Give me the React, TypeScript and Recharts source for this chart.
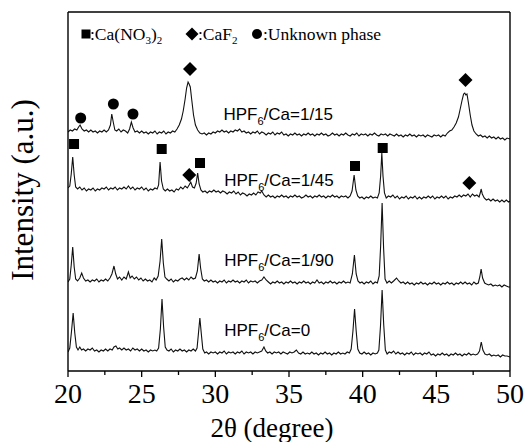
import React from 'react';
import { ComposedChart, Line, Scatter, XAxis, YAxis, Label } from 'recharts';

const serif = '"Liberation Serif", "Times New Roman", Times, serif';
const sans = '"Liberation Sans", Arial, sans-serif';

// 2θ tick marks; majors get a number
const majorTicks = [20, 25, 30, 35, 40, 45, 50];
const allTicks = [20, 22.5, 25, 27.5, 30, 32.5, 35, 37.5, 40, 42.5, 45, 47.5, 50];

// patterns, stacked with offsets (arbitrary units)
const pattern15: [number, number][] = [
  [20.0, 239], [20.15, 241], [20.3, 240], [20.45, 242], [20.6, 241], [20.72, 244], [20.82, 246], [20.95, 242],
  [21.1, 240], [21.25, 241], [21.4, 239], [21.55, 241], [21.7, 239], [21.85, 240], [22.0, 238], [22.15, 240],
  [22.3, 239], [22.45, 241], [22.6, 239], [22.75, 241], [22.88, 246], [22.97, 257], [23.07, 249], [23.18, 241],
  [23.3, 240], [23.45, 242], [23.6, 239], [23.75, 241], [23.9, 240], [24.05, 238], [24.18, 242], [24.3, 249],
  [24.42, 243], [24.55, 239], [24.7, 240], [24.85, 238], [25.0, 240], [25.15, 238], [25.3, 239], [25.45, 237],
  [25.6, 239], [25.75, 238], [25.9, 240], [26.05, 237], [26.2, 239], [26.35, 238], [26.5, 240], [26.65, 237],
  [26.8, 239], [26.95, 238], [27.1, 240], [27.25, 239], [27.4, 242], [27.55, 246], [27.7, 252], [27.82, 260],
  [27.95, 272], [28.05, 283], [28.15, 289], [28.22, 287], [28.3, 284], [28.4, 271], [28.52, 256], [28.65, 246],
  [28.8, 241], [28.95, 238], [29.1, 237], [29.25, 238], [29.4, 236], [29.55, 238], [29.7, 237], [29.85, 239],
  [30.0, 238], [30.15, 240], [30.3, 239], [30.45, 241], [30.6, 239], [30.75, 240], [30.9, 238], [31.05, 240],
  [31.2, 239], [31.35, 241], [31.5, 240], [31.65, 242], [31.8, 239], [31.95, 240], [32.1, 238], [32.25, 239],
  [32.4, 237], [32.55, 239], [32.7, 238], [32.85, 240], [33.0, 237], [33.15, 239], [33.3, 238], [33.45, 236],
  [33.6, 238], [33.75, 237], [33.9, 239], [34.05, 236], [34.2, 238], [34.35, 237], [34.5, 239], [34.65, 236],
  [34.8, 237], [34.95, 235], [35.1, 237], [35.25, 236], [35.4, 238], [35.55, 236], [35.7, 237], [35.85, 235],
  [36.0, 237], [36.15, 236], [36.3, 238], [36.45, 236], [36.6, 237], [36.75, 235], [36.9, 237], [37.05, 236],
  [37.2, 238], [37.35, 236], [37.5, 237], [37.65, 235], [37.8, 236], [37.95, 238], [38.1, 236], [38.25, 237],
  [38.4, 235], [38.55, 237], [38.7, 236], [38.85, 238], [39.0, 236], [39.15, 235], [39.3, 237], [39.45, 236],
  [39.6, 238], [39.75, 235], [39.9, 237], [40.05, 236], [40.2, 237], [40.35, 235], [40.5, 237], [40.65, 236],
  [40.8, 238], [40.95, 236], [41.1, 235], [41.25, 237], [41.4, 236], [41.55, 237], [41.7, 235], [41.85, 237],
  [42.0, 236], [42.15, 235], [42.3, 237], [42.45, 235], [42.6, 236], [42.75, 234], [42.9, 236], [43.05, 235],
  [43.2, 237], [43.35, 235], [43.5, 236], [43.65, 234], [43.8, 236], [43.95, 235], [44.1, 236], [44.25, 234],
  [44.4, 236], [44.55, 235], [44.7, 234], [44.85, 236], [45.0, 235], [45.15, 236], [45.3, 234], [45.45, 236],
  [45.6, 235], [45.75, 238], [45.9, 240], [46.05, 241], [46.2, 244], [46.35, 248], [46.5, 254], [46.62, 262],
  [46.75, 271], [46.85, 277], [46.93, 278], [47.0, 276], [47.08, 277], [47.18, 268], [47.3, 256], [47.42, 246],
  [47.55, 240], [47.7, 237], [47.85, 235], [48.0, 236], [48.15, 234], [48.3, 235], [48.45, 233], [48.6, 235],
  [48.75, 233], [48.9, 234], [49.05, 232], [49.2, 234], [49.35, 232], [49.5, 233], [49.65, 231], [49.8, 233],
  [50.0, 232],
];

const pattern45: [number, number][] = [
  [20.0, 183], [20.12, 185], [20.22, 197], [20.32, 214], [20.42, 196], [20.52, 184], [20.65, 182], [20.8, 184],
  [20.95, 181], [21.1, 183], [21.25, 180], [21.4, 182], [21.55, 181], [21.7, 183], [21.85, 180], [22.0, 182],
  [22.15, 181], [22.3, 183], [22.45, 182], [22.6, 184], [22.75, 181], [22.9, 183], [23.05, 182], [23.2, 184],
  [23.35, 181], [23.5, 183], [23.65, 182], [23.8, 184], [23.95, 182], [24.1, 185], [24.25, 182], [24.4, 184],
  [24.55, 181], [24.7, 183], [24.85, 182], [25.0, 184], [25.15, 181], [25.3, 183], [25.45, 180], [25.6, 182],
  [25.75, 181], [25.9, 183], [26.05, 182], [26.15, 186], [26.25, 209], [26.35, 190], [26.47, 182], [26.6, 180],
  [26.75, 182], [26.9, 180], [27.05, 181], [27.2, 179], [27.35, 182], [27.5, 181], [27.65, 184], [27.8, 182],
  [27.95, 185], [28.1, 183], [28.22, 186], [28.33, 189], [28.45, 184], [28.58, 183], [28.7, 188], [28.8, 198],
  [28.9, 187], [29.02, 181], [29.15, 179], [29.3, 180], [29.45, 178], [29.6, 180], [29.75, 179], [29.9, 181],
  [30.05, 179], [30.2, 180], [30.35, 178], [30.5, 180], [30.65, 179], [30.8, 177], [30.95, 179], [31.1, 178],
  [31.25, 180], [31.4, 177], [31.55, 179], [31.7, 176], [31.85, 178], [32.0, 177], [32.15, 175], [32.3, 177],
  [32.45, 176], [32.6, 178], [32.75, 176], [32.9, 179], [33.05, 178], [33.15, 180], [33.3, 176], [33.45, 174],
  [33.6, 176], [33.75, 174], [33.9, 175], [34.05, 173], [34.2, 175], [34.35, 174], [34.5, 176], [34.65, 174],
  [34.8, 175], [34.95, 173], [35.1, 175], [35.25, 174], [35.4, 176], [35.55, 174], [35.7, 175], [35.85, 173],
  [36.0, 174], [36.15, 176], [36.3, 174], [36.45, 175], [36.6, 173], [36.75, 175], [36.9, 174], [37.05, 176],
  [37.2, 174], [37.35, 175], [37.5, 173], [37.65, 175], [37.8, 174], [37.95, 176], [38.1, 174], [38.25, 175],
  [38.4, 173], [38.55, 175], [38.7, 174], [38.85, 175], [39.0, 173], [39.15, 175], [39.28, 180], [39.42, 196],
  [39.54, 181], [39.66, 175], [39.8, 173], [39.95, 174], [40.1, 172], [40.25, 174], [40.4, 173], [40.55, 175],
  [40.7, 173], [40.85, 174], [41.0, 173], [41.12, 178], [41.22, 195], [41.3, 218], [41.38, 195], [41.48, 178],
  [41.6, 173], [41.75, 175], [41.9, 174], [42.05, 176], [42.2, 173], [42.35, 175], [42.5, 172], [42.65, 174],
  [42.8, 173], [42.95, 175], [43.1, 172], [43.25, 174], [43.4, 173], [43.55, 175], [43.7, 172], [43.85, 174],
  [44.0, 172], [44.15, 174], [44.3, 173], [44.45, 175], [44.6, 173], [44.75, 175], [44.9, 172], [45.05, 174],
  [45.2, 173], [45.35, 175], [45.5, 173], [45.65, 175], [45.8, 172], [45.95, 174], [46.1, 173], [46.25, 175],
  [46.4, 174], [46.55, 176], [46.7, 174], [46.85, 176], [47.0, 175], [47.15, 177], [47.3, 174], [47.45, 177],
  [47.6, 175], [47.75, 176], [47.9, 174], [47.98, 178], [48.04, 182], [48.12, 177], [48.25, 173], [48.4, 171],
  [48.55, 172], [48.7, 170], [48.85, 172], [49.0, 170], [49.15, 171], [49.3, 169], [49.45, 171], [49.6, 169],
  [49.75, 171], [49.9, 169], [50.0, 170],
];

const pattern90: [number, number][] = [
  [20.0, 89], [20.12, 92], [20.22, 106], [20.32, 124], [20.42, 104], [20.52, 92], [20.65, 90], [20.8, 93],
  [20.93, 98], [21.05, 93], [21.2, 90], [21.35, 91], [21.5, 89], [21.65, 91], [21.8, 90], [21.95, 92],
  [22.1, 89], [22.25, 91], [22.4, 90], [22.55, 92], [22.7, 90], [22.85, 93], [22.98, 97], [23.12, 105],
  [23.24, 97], [23.36, 92], [23.5, 94], [23.65, 91], [23.8, 94], [23.95, 92], [24.1, 99], [24.22, 93],
  [24.35, 95], [24.5, 92], [24.65, 94], [24.8, 91], [24.95, 93], [25.1, 90], [25.25, 92], [25.4, 90],
  [25.55, 91], [25.7, 89], [25.85, 93], [25.98, 91], [26.12, 95], [26.25, 110], [26.36, 132], [26.47, 108],
  [26.58, 94], [26.7, 92], [26.85, 90], [27.0, 92], [27.15, 89], [27.3, 91], [27.45, 90], [27.6, 92],
  [27.75, 93], [27.9, 91], [28.05, 93], [28.2, 91], [28.35, 94], [28.5, 92], [28.65, 93], [28.78, 100],
  [28.9, 117], [29.0, 103], [29.12, 92], [29.25, 90], [29.4, 91], [29.55, 89], [29.7, 91], [29.85, 89],
  [30.0, 90], [30.15, 88], [30.3, 90], [30.45, 89], [30.6, 91], [30.75, 88], [30.9, 90], [31.05, 89],
  [31.2, 91], [31.35, 89], [31.5, 90], [31.65, 88], [31.8, 90], [31.95, 89], [32.1, 91], [32.25, 88],
  [32.4, 90], [32.55, 89], [32.7, 90], [32.85, 88], [33.0, 90], [33.15, 91], [33.3, 94], [33.45, 91],
  [33.6, 89], [33.75, 87], [33.9, 89], [34.05, 88], [34.2, 90], [34.35, 88], [34.5, 89], [34.65, 87],
  [34.8, 89], [34.95, 88], [35.1, 90], [35.25, 88], [35.4, 89], [35.55, 87], [35.7, 89], [35.85, 88],
  [36.0, 90], [36.15, 88], [36.3, 89], [36.45, 87], [36.6, 89], [36.75, 88], [36.9, 91], [37.05, 88],
  [37.2, 89], [37.35, 87], [37.5, 89], [37.65, 88], [37.8, 90], [37.95, 88], [38.1, 89], [38.25, 87],
  [38.4, 89], [38.55, 88], [38.7, 90], [38.85, 88], [39.0, 89], [39.15, 88], [39.3, 97], [39.44, 116],
  [39.56, 97], [39.68, 90], [39.82, 88], [39.95, 89], [40.1, 87], [40.25, 89], [40.4, 88], [40.55, 90],
  [40.7, 87], [40.85, 89], [41.0, 88], [41.12, 95], [41.22, 125], [41.32, 168], [41.42, 123], [41.52, 92],
  [41.65, 88], [41.8, 90], [41.95, 88], [42.1, 90], [42.3, 93], [42.45, 90], [42.6, 88], [42.75, 89],
  [42.9, 87], [43.05, 89], [43.2, 87], [43.35, 88], [43.5, 86], [43.65, 88], [43.8, 87], [43.95, 89],
  [44.1, 87], [44.25, 88], [44.4, 86], [44.55, 88], [44.7, 87], [44.85, 89], [45.0, 87], [45.15, 88],
  [45.3, 86], [45.45, 88], [45.6, 87], [45.75, 89], [45.9, 87], [46.05, 88], [46.2, 86], [46.35, 88],
  [46.5, 87], [46.65, 89], [46.8, 87], [46.95, 89], [47.1, 87], [47.25, 88], [47.4, 86], [47.55, 89],
  [47.7, 87], [47.85, 88], [47.95, 94], [48.04, 102], [48.14, 93], [48.28, 88], [48.4, 87], [48.55, 86],
  [48.7, 87], [48.85, 85], [49.0, 86], [49.15, 85], [49.3, 86], [49.45, 84], [49.6, 86], [49.75, 85],
  [49.9, 84], [50.0, 84],
];

const pattern0: [number, number][] = [
  [20.0, 19], [20.12, 23], [20.24, 40], [20.35, 58], [20.46, 38], [20.57, 24], [20.68, 21], [20.8, 24],
  [20.92, 21], [21.05, 22], [21.2, 20], [21.35, 22], [21.5, 21], [21.65, 23], [21.8, 20], [21.95, 21],
  [22.1, 19], [22.25, 21], [22.4, 20], [22.55, 22], [22.7, 20], [22.85, 22], [23.0, 21], [23.12, 24],
  [23.25, 25], [23.38, 22], [23.5, 23], [23.65, 21], [23.8, 23], [23.95, 21], [24.1, 22], [24.25, 20],
  [24.4, 23], [24.55, 21], [24.7, 22], [24.85, 20], [25.0, 22], [25.15, 20], [25.3, 21], [25.45, 19],
  [25.6, 21], [25.75, 20], [25.9, 21], [26.02, 20], [26.15, 23], [26.27, 42], [26.38, 72], [26.49, 44],
  [26.6, 24], [26.72, 21], [26.85, 20], [27.0, 22], [27.15, 19], [27.3, 21], [27.45, 20], [27.6, 22],
  [27.75, 20], [27.9, 21], [28.05, 19], [28.2, 21], [28.35, 20], [28.5, 22], [28.65, 20], [28.76, 23],
  [28.85, 37], [28.95, 53], [29.05, 37], [29.15, 22], [29.28, 18], [29.4, 19], [29.55, 17], [29.7, 19],
  [29.85, 18], [30.0, 19], [30.15, 17], [30.3, 19], [30.45, 18], [30.6, 20], [30.75, 17], [30.9, 19],
  [31.05, 18], [31.2, 19], [31.35, 17], [31.5, 19], [31.65, 18], [31.8, 20], [31.95, 17], [32.1, 19],
  [32.25, 18], [32.4, 19], [32.55, 17], [32.7, 19], [32.85, 18], [33.0, 19], [33.15, 20], [33.3, 24],
  [33.42, 20], [33.55, 18], [33.7, 19], [33.85, 17], [34.0, 19], [34.15, 18], [34.3, 19], [34.45, 17],
  [34.6, 19], [34.75, 18], [34.9, 17], [35.05, 19], [35.2, 18], [35.35, 19], [35.5, 21], [35.65, 18],
  [35.8, 17], [35.95, 19], [36.1, 17], [36.25, 18], [36.4, 17], [36.55, 19], [36.7, 17], [36.85, 18],
  [37.0, 16], [37.15, 18], [37.3, 17], [37.45, 19], [37.6, 17], [37.75, 18], [37.9, 16], [38.05, 18],
  [38.2, 17], [38.35, 19], [38.5, 17], [38.65, 18], [38.8, 17], [38.95, 19], [39.1, 18], [39.22, 22],
  [39.34, 40], [39.45, 62], [39.56, 40], [39.67, 22], [39.8, 18], [39.95, 17], [40.1, 19], [40.25, 17],
  [40.4, 18], [40.55, 16], [40.7, 18], [40.85, 17], [41.0, 18], [41.1, 21], [41.21, 45], [41.32, 81],
  [41.43, 46], [41.54, 21], [41.66, 17], [41.8, 19], [41.95, 18], [42.1, 20], [42.25, 17], [42.4, 19],
  [42.55, 17], [42.7, 18], [42.85, 16], [43.0, 18], [43.15, 17], [43.3, 19], [43.45, 16], [43.6, 18],
  [43.75, 17], [43.9, 18], [44.05, 16], [44.2, 18], [44.35, 17], [44.5, 19], [44.65, 16], [44.8, 17],
  [44.95, 15], [45.1, 17], [45.25, 16], [45.4, 18], [45.55, 16], [45.7, 17], [45.85, 15], [46.0, 17],
  [46.15, 16], [46.3, 18], [46.45, 16], [46.6, 17], [46.75, 15], [46.9, 17], [47.05, 16], [47.2, 18],
  [47.35, 16], [47.5, 17], [47.65, 16], [47.8, 17], [47.93, 20], [48.05, 29], [48.16, 21], [48.3, 17],
  [48.45, 16], [48.6, 17], [48.75, 15], [48.9, 16], [49.05, 15], [49.2, 16], [49.35, 14], [49.5, 16],
  [49.65, 15], [49.8, 15], [50.0, 14],
];

// phase markers above the peaks
const nitrateMarks: [number, number][] = [[20.41, 227], [26.36, 222], [28.96, 208], [39.48, 205], [41.36, 223]];
const fluorideMarks: [number, number][] = [[28.28, 302], [46.98, 291], [28.23, 196], [47.24, 188]];
const unknownMarks: [number, number][] = [[20.86, 253], [23.08, 267], [24.41, 257]];

// sample names: HPF6/Ca = ratio
const sampleRatios = ['1/15', '1/45', '1/90', '0'];
const sampleLabelX = [30.55, 30.6, 30.6, 30.6];
const sampleLabelY = [251, 185.5, 105.5, 35];

const pts = (arr: [number, number][]) => arr.map(([x, y]) => ({ x, y }));
const labelData = sampleRatios.map((ratio, i) => ({ x: sampleLabelX[i], y: sampleLabelY[i], ratio }));

const Square = (p: any) => <rect x={p.cx - 5} y={p.cy - 5} width={10} height={10} fill="#000" />;
const Diamond = (p: any) => (
  <polygon
    points={`${p.cx},${p.cy - 7} ${p.cx + 7},${p.cy} ${p.cx},${p.cy + 7} ${p.cx - 7},${p.cy}`}
    fill="#000"
  />
);
const Dot = (p: any) => <circle cx={p.cx} cy={p.cy} r={5.5} fill="#000" />;

const SampleLabel = (p: any) => {
  const ratio = p.payload?.ratio ?? p.ratio;
  return (
    <text x={p.cx} y={p.cy} style={{ fontFamily: sans, fontSize: 17 }} fill="#000">
      HPF
      <tspan style={{ fontSize: 11 }} dy={5}>6</tspan>
      <tspan dy={-5}>/Ca={ratio}</tspan>
    </text>
  );
};

const AxisTick = ({ x, y, payload }: any) => {
  const major = majorTicks.includes(payload.value);
  return (
    <g>
      <line x1={x} x2={x} y1={y} y2={y + (major ? 6 : 4)} stroke="#000" strokeWidth={1.3} />
      {major && (
        <text x={x} y={y + 32} textAnchor="middle" style={{ fontFamily: serif, fontSize: 28 }} fill="#000">
          {payload.value}
        </text>
      )}
    </g>
  );
};

const lineProps = {
  type: 'linear' as const,
  dataKey: 'y',
  stroke: '#111',
  strokeWidth: 1.1,
  dot: false,
  activeDot: false,
  isAnimationActive: false,
};

const frame = { stroke: '#000', strokeWidth: 1.4 };

export default function App() {
  return (
    <div style={{ position: 'absolute', left: 0, top: 0, width: 529, height: 442, background: '#fff' }}>
      <ComposedChart width={529} height={442} margin={{ top: 11, right: 18, bottom: 41, left: 67 }}>
        <XAxis
          xAxisId={0}
          dataKey="x"
          type="number"
          domain={[20, 50]}
          ticks={allTicks}
          interval={0}
          allowDataOverflow
          height={30}
          tickSize={0}
          tickMargin={0}
          tickLine={false}
          tick={<AxisTick />}
          axisLine={frame}
        >
          <Label
            content={() => (
              <text x={272} y={437} textAnchor="middle" style={{ fontFamily: serif, fontSize: 27 }} fill="#000">
                2θ (degree)
              </text>
            )}
          />
        </XAxis>
        <XAxis
          xAxisId="top"
          orientation="top"
          type="number"
          domain={[20, 50]}
          height={1}
          tick={false}
          tickLine={false}
          axisLine={frame}
        />
        <YAxis
          yAxisId={0}
          dataKey="y"
          type="number"
          domain={[0, 359]}
          allowDataOverflow
          width={1}
          tick={false}
          tickLine={false}
          axisLine={frame}
        >
          <Label
            content={() => (
              <text
                x={33}
                y={190}
                transform="rotate(-90 33 190)"
                textAnchor="middle"
                style={{ fontFamily: serif, fontSize: 31 }}
                fill="#000"
              >
                Intensity (a.u.)
              </text>
            )}
          />
        </YAxis>
        <YAxis
          yAxisId="right"
          orientation="right"
          type="number"
          domain={[0, 359]}
          width={1}
          tick={false}
          tickLine={false}
          axisLine={frame}
        />

        <Line {...lineProps} data={pts(pattern15)} name="1/15" />
        <Line {...lineProps} data={pts(pattern45)} name="1/45" />
        <Line {...lineProps} data={pts(pattern90)} name="1/90" />
        <Line {...lineProps} data={pts(pattern0)} name="0" />

        <Scatter data={pts(nitrateMarks)} dataKey="y" shape={Square} isAnimationActive={false} />
        <Scatter data={pts(fluorideMarks)} dataKey="y" shape={Diamond} isAnimationActive={false} />
        <Scatter data={pts(unknownMarks)} dataKey="y" shape={Dot} isAnimationActive={false} />
        <Scatter data={labelData} dataKey="y" shape={SampleLabel} isAnimationActive={false} />
      </ComposedChart>

      <svg width={529} height={60} style={{ position: 'absolute', left: 0, top: 0, pointerEvents: 'none' }}>
        <g style={{ fontFamily: serif, fontSize: 17.5 }} fill="#000">
          <rect x={81.5} y={29.5} width={9} height={9} />
          <text x={90} y={40}>
            :Ca(NO<tspan style={{ fontSize: 11 }} dy={4}>3</tspan>
            <tspan dy={-4}>)</tspan>
            <tspan style={{ fontSize: 11 }} dy={4}>2</tspan>
          </text>
          <polygon points="192,27.5 198.5,34 192,40.5 185.5,34" />
          <text x={198} y={40}>
            :CaF<tspan style={{ fontSize: 11 }} dy={4}>2</tspan>
          </text>
          <circle cx={257} cy={34} r={5} />
          <text x={263} y={40}>:Unknown phase</text>
        </g>
      </svg>
    </div>
  );
}
